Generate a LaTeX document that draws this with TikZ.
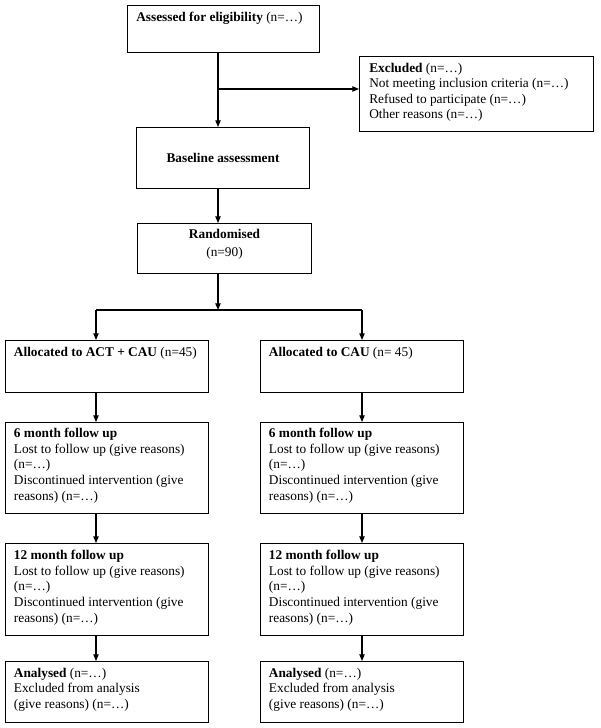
\documentclass[tikz,border=0pt]{standalone}
\usepackage{fontspec}
\setmainfont{Liberation Serif}
\usetikzlibrary{arrows.meta}
\begin{document}
\begin{tikzpicture}[x=0.75pt,y=-0.75pt,
  box/.style={draw, line width=0.8pt, anchor=north west, inner sep=0pt},
  txt/.style={anchor=north west, inner xsep=6.5pt, inner ysep=5pt, align=left, font=\fontsize{10pt}{11.8pt}\selectfont},
  ctxt/.style={anchor=north, inner sep=0pt, align=center, font=\fontsize{10pt}{11.8pt}\selectfont},
  arr/.style={line width=0.8pt, -{Triangle[length=5pt,width=4pt]}},
  ln/.style={line width=0.8pt},
  colbox/.style={box, minimum width=152.25pt}]
\useasboundingbox (0,0) rectangle (600,728);
% top part
\node[box, minimum width=144pt, minimum height=35.25pt,
  label={[txt, inner xsep=6.75pt]north west:{\textbf{Assessed for eligibility} (n=…)}}] (assess) at (127,5) {};
\node[box, minimum width=175.5pt, minimum height=56.25pt,
  label={[txt, inner xsep=7.5pt, font=\fontsize{10pt}{11.6pt}\selectfont]north west:{\textbf{Excluded} (n=…)\\Not meeting inclusion criteria (n=…)\\Refused to participate (n=…)\\Other reasons (n=…)}}] (excl) at (359,56) {};
\node[box, minimum width=129.75pt, minimum height=45.75pt, font=\fontsize{10pt}{11.8pt}\selectfont\bfseries] (base) at (136,127) {Baseline assessment};
\node[box, minimum width=130.5pt, minimum height=37.5pt,
  label={[ctxt, yshift=-4.5pt]north:{\textbf{Randomised}\\[1.7pt](n=90)}}] (rand) at (137,223) {};
% columns
\node[colbox, minimum height=39pt,
  label={[txt]north west:{\textbf{Allocated to ACT + CAU} (n=45)}}] (allocL) at (5,340) {};
\node[colbox, minimum height=39pt,
  label={[txt]north west:{\textbf{Allocated to CAU} (n= 45)}}] (allocR) at (260,340) {};
\node[colbox, minimum height=68.25pt,
  label={[txt, inner ysep=4.3pt]north west:{\textbf{6 month follow up}\\Lost to follow up (give reasons)\\(n=…)\\Discontinued intervention (give\\reasons) (n=…)}}] (sixL) at (5,422) {};
\node[colbox, minimum height=68.25pt,
  label={[txt, inner ysep=4.3pt]north west:{\textbf{6 month follow up}\\Lost to follow up (give reasons)\\(n=…)\\Discontinued intervention (give\\reasons) (n=…)}}] (sixR) at (260,422) {};
\node[colbox, minimum height=69pt,
  label={[txt]north west:{\textbf{12 month follow up}\\Lost to follow up (give reasons)\\(n=…)\\Discontinued intervention (give\\reasons) (n=…)}}] (twelveL) at (5,543) {};
\node[colbox, minimum height=69pt,
  label={[txt]north west:{\textbf{12 month follow up}\\Lost to follow up (give reasons)\\(n=…)\\Discontinued intervention (give\\reasons) (n=…)}}] (twelveR) at (260,543) {};
\node[colbox, minimum height=45.75pt,
  label={[txt]north west:{\textbf{Analysed} (n=…)\\Excluded from analysis\\(give reasons) (n=…)}}] (anaL) at (5,661) {};
\node[colbox, minimum height=45.75pt,
  label={[txt]north west:{\textbf{Analysed} (n=…)\\Excluded from analysis\\(give reasons) (n=…)}}] (anaR) at (260,661) {};
% connectors
\coordinate (cx) at (218,0);
\coordinate (j1) at (218,89);
\coordinate (split) at (218,310);
\coordinate (lx) at (96,310);
\coordinate (rx) at (362,310);
\draw[arr] (assess.south -| cx) -- (base.north -| cx);
\draw[arr] (j1) -- (excl.west |- j1);
\draw[arr] (base.south -| cx) -- (rand.north -| cx);
\draw[arr] (rand.south -| cx) -- (split);
\draw[ln] (lx) -- (rx);
\draw[arr] (lx) -- (allocL.north -| lx);
\draw[arr] (rx) -- (allocR.north -| rx);
\draw[arr] (allocL.south -| lx) -- (sixL.north -| lx);
\draw[arr] (allocR.south -| rx) -- (sixR.north -| rx);
\draw[arr] (sixL.south -| lx) -- (twelveL.north -| lx);
\draw[arr] (sixR.south -| rx) -- (twelveR.north -| rx);
\draw[arr] (twelveL.south -| lx) -- (anaL.north -| lx);
\draw[arr] (twelveR.south -| rx) -- (anaR.north -| rx);
\end{tikzpicture}
\end{document}
